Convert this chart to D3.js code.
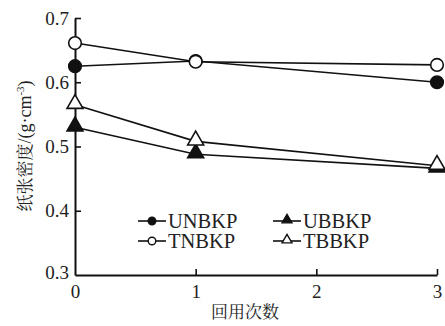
<!DOCTYPE html>
<html>
<head>
<meta charset="utf-8">
<script src="https://cdn.jsdelivr.net/npm/d3@7"></script>
<style>
  body { margin: 0; background: #fff; }
</style>
</head>
<body>
<svg id="chart" width="445" height="326"></svg>
<script>
// chart data
var cycles = [0, 1, 3];
var xTicks = [0, 1, 2, 3];
var yTicks = [0.3, 0.4, 0.5, 0.6, 0.7];
var unbkp = [0.625, 0.633, 0.600];
var tnbkp = [0.661, 0.632, 0.627];
var ubbkp = [0.530, 0.488, 0.466];
var tbbkp = [0.565, 0.508, 0.470];

var SERIF = 'Liberation Serif';
var CJK = 'Noto Serif CJK SC';

var svg = d3.select('#chart');
var x = d3.scaleLinear().domain([0, 3]).range([75, 437]);
var y = d3.scaleLinear().domain([0.3, 0.7]).range([275, 18]);

// axes, ticks pointing inward
var xAxis = svg.append('g').attr('transform', 'translate(0,275)')
  .call(d3.axisBottom(x).tickValues(xTicks).tickFormat(d3.format('d')).tickSizeInner(-6).tickSizeOuter(0).tickPadding(10));
var yAxis = svg.append('g').attr('transform', 'translate(75,0)')
  .call(d3.axisLeft(y).tickValues(yTicks).tickFormat(d3.format('.1f')).tickSizeInner(-6).tickSizeOuter(0).tickPadding(6));

[xAxis, yAxis].forEach(function (a) {
  a.attr('font-family', SERIF).attr('font-size', 19);
  a.select('.domain').attr('stroke', '#111').attr('stroke-width', 2);
  a.selectAll('.tick line').attr('stroke', '#111').attr('stroke-width', 1.6);
  a.selectAll('.tick text').attr('font-size', 19).attr('fill', '#222')
    .attr('font-family', SERIF);
});
xAxis.selectAll('.tick text').attr('dy', '0.71em');
// 0 / 0.3 ticks coincide with the axes
yAxis.selectAll('.tick line').filter(function (d) { return d === 0.3; }).remove();
xAxis.selectAll('.tick line').filter(function (d) { return d === 0; }).remove();
yAxis.selectAll('.tick text').filter(function (d) { return d === 0.3; }).attr('dy', '0.2em');

var line = d3.line().x(function (d, i) { return x(cycles[i]); }).y(function (d) { return y(d); });

var allSeries = [
  { name: 'UNBKP', values: unbkp, shape: 'circle', fill: '#111' },
  { name: 'TNBKP', values: tnbkp, shape: 'circle', fill: '#fff' },
  { name: 'UBBKP', values: ubbkp, shape: 'triangle', fill: '#111' },
  { name: 'TBBKP', values: tbbkp, shape: 'triangle', fill: '#fff' }
];

var symCircle = d3.symbol().type(d3.symbolCircle);
var symTri = d3.symbol().type(d3.symbolTriangle);

function markerPath(shape, big) {
  if (shape === 'circle') return symCircle.size(big ? 125 : 45)();
  return symTri.size(big ? 110 : 42)();
}

allSeries.forEach(function (s) {
  svg.append('path').datum(s.values)
    .attr('d', line).attr('fill', 'none').attr('stroke', '#111').attr('stroke-width', 1.6);
});
// filled markers first, open ones on top
[allSeries[0], allSeries[2], allSeries[3], allSeries[1]].forEach(function (s) {
  svg.selectAll(null).data(s.values).enter().append('path')
    .attr('d', markerPath(s.shape, true))
    .attr('transform', function (d, i) {
      var dy = s.shape === 'triangle' ? -1 : 0;
      return 'translate(' + x(cycles[i]) + ',' + (y(d) + dy) + ')';
    })
    .attr('fill', s.fill).attr('stroke', '#111').attr('stroke-width', 1.6);
});

// legend
var legendPos = [
  { x: 138, y: 221 }, { x: 138, y: 241 }, { x: 273, y: 221 }, { x: 273, y: 241 }
];
allSeries.forEach(function (s, i) {
  var p = legendPos[i];
  var g = svg.append('g').attr('transform', 'translate(' + p.x + ',' + p.y + ')');
  g.append('line').attr('x1', 0).attr('x2', 28).attr('y1', 0).attr('y2', 0)
    .attr('stroke', '#111').attr('stroke-width', 1.6);
  g.append('path').attr('d', markerPath(s.shape, false))
    .attr('transform', 'translate(14,' + (s.shape === 'triangle' ? -1 : 0) + ')')
    .attr('fill', s.fill).attr('stroke', '#111').attr('stroke-width', 1.4);
  g.append('text').attr('x', 30).attr('y', 0).attr('dy', '0.35em')
    .attr('font-family', SERIF).attr('fill', '#222')
    .attr('font-size', 20.5).text(s.name);
});

// axis titles
svg.append('text').attr('font-family', CJK).attr('fill', '#222').attr('x', 245).attr('y', 318)
  .attr('text-anchor', 'middle').attr('font-size', 17).text('回用次数');

var yt = svg.append('text').attr('text-anchor', 'middle').attr('font-size', 18)
  .attr('font-family', SERIF).attr('fill', '#222')
  .attr('transform', 'translate(31,146) rotate(-90)');
yt.append('tspan').attr('font-family', CJK).attr('font-size', 17).text('纸张密度');
yt.append('tspan').text('/(g·cm');
yt.append('tspan').attr('font-size', 11).attr('dy', -7).text('-3');
yt.append('tspan').attr('dy', 7).text(')');
</script>
</body>
</html>
